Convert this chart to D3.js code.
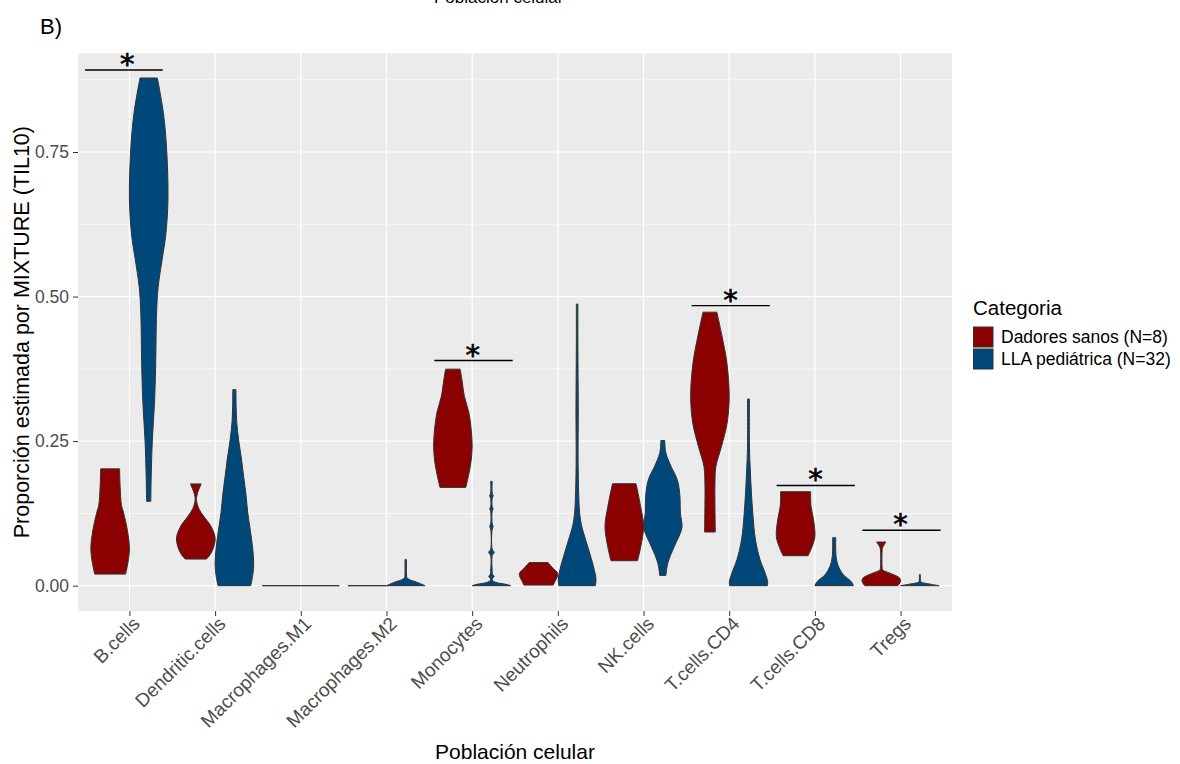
<!DOCTYPE html>
<html><head><meta charset="utf-8">
<script src="https://cdn.jsdelivr.net/npm/d3@7"></script>
<style>
body{margin:0;background:#fff}
svg{display:block}
text{font-family:"Liberation Sans",Arial,Helvetica,sans-serif}
</style>
</head><body>
<svg id="chart" width="1180" height="764"></svg>
<script>
// ---------- data ----------
const categories = ["B.cells","Dendritic.cells","Macrophages.M1","Macrophages.M2","Monocytes","Neutrophils","NK.cells","T.cells.CD4","T.cells.CD8","Tregs"];
const groups = ["Dadores sanos (N=8)","LLA pediátrica (N=32)"];
const groupColors = ["#8B0000","#00487A"];
const yTicks = [0, 0.25, 0.5, 0.75];
const yTickLabels = ["0.00","0.25","0.50","0.75"];
const yMinorTicks = [0.125, 0.375, 0.625, 0.875];

// violin outlines: [value, relative width]
const vBcellsSanos   = [[0.020,0.80],[0.039,0.92],[0.064,1.00],[0.095,0.90],[0.127,0.69],[0.139,0.59],[0.171,0.52],[0.202,0.49]];
const vBcellsLLA     = [[0.146,0.11],[0.189,0.13],[0.252,0.19],[0.315,0.30],[0.378,0.36],[0.472,0.41],[0.516,0.49],[0.567,0.71],[0.605,0.88],[0.667,1.00],[0.755,0.93],[0.818,0.76],[0.878,0.45]];
const vDendSanos     = [[0.046,0.55],[0.054,0.75],[0.067,0.93],[0.083,1.00],[0.102,0.80],[0.120,0.41],[0.133,0.16],[0.149,0.035],[0.161,0.10],[0.176,0.28]];
const vDendLLA       = [[0.000,0.85],[0.020,0.96],[0.039,1.00],[0.064,0.95],[0.095,0.83],[0.127,0.69],[0.158,0.60],[0.189,0.48],[0.221,0.36],[0.252,0.22],[0.284,0.12],[0.310,0.09],[0.339,0.08]];
const vM1Sanos       = [[0.000,1.00],[0.000,1.00]];
const vM1LLA         = [[0.000,1.00],[0.000,1.00]];
const vM2Sanos       = [[0.000,1.00],[0.000,1.00]];
const vM2LLA         = [[0.000,1.00],[0.0035,0.76],[0.0075,0.45],[0.0104,0.20],[0.014,0.06],[0.020,0.04],[0.045,0.04]];
const vMonoSanos     = [[0.170,0.67],[0.189,0.80],[0.212,0.93],[0.241,1.00],[0.270,0.95],[0.299,0.83],[0.327,0.60],[0.356,0.47],[0.3745,0.38]];
const vMonoLLA       = [[0.000,1.00],[0.002,0.80],[0.004,0.45],[0.006,0.20],[0.009,0.06],[0.012,0.05],[0.016,0.14],[0.020,0.05],[0.025,0.04],[0.052,0.04],[0.0576,0.14],[0.063,0.04],[0.098,0.04],[0.1025,0.09],[0.107,0.04],[0.129,0.04],[0.1331,0.09],[0.137,0.04],[0.151,0.04],[0.1555,0.09],[0.160,0.04],[0.1803,0.04]];
const vNeutroSanos   = [[0.001,0.76],[0.006,0.83],[0.0207,1.00],[0.030,0.75],[0.040,0.49]];
const vNeutroLLA     = [[0.000,0.95],[0.0104,0.98],[0.0277,0.89],[0.0565,0.65],[0.085,0.39],[0.105,0.22],[0.126,0.13],[0.160,0.08],[0.220,0.05],[0.300,0.06],[0.360,0.05],[0.420,0.04],[0.487,0.04]];
const vNKSanos       = [[0.0432,0.69],[0.068,0.86],[0.1025,1.00],[0.137,0.85],[0.1763,0.61]];
const vNKLLA         = [[0.0178,0.16],[0.0392,0.26],[0.068,0.60],[0.091,0.91],[0.1025,1.00],[0.1256,0.91],[0.1543,0.89],[0.1832,0.75],[0.2062,0.43],[0.2293,0.16],[0.2511,0.10]];
const vCD4Sanos      = [[0.0928,0.28],[0.140,0.26],[0.1775,0.26],[0.206,0.31],[0.241,0.60],[0.281,0.89],[0.327,1.00],[0.385,0.88],[0.431,0.63],[0.473,0.36]];
const vCD4LLA        = [[0.000,0.98],[0.0075,0.99],[0.022,0.86],[0.045,0.60],[0.0795,0.36],[0.126,0.22],[0.195,0.10],[0.241,0.05],[0.3227,0.05]];
const vCD8Sanos      = [[0.0518,0.65],[0.068,0.86],[0.085,1.00],[0.114,0.93],[0.137,0.80],[0.1625,0.78]];
const vCD8LLA        = [[0.000,1.00],[0.0075,0.87],[0.019,0.47],[0.0334,0.22],[0.0506,0.10],[0.083,0.08]];
const vTregsSanos    = [[0.000,0.86],[0.0075,1.00],[0.0133,0.95],[0.0207,0.52],[0.026,0.12],[0.0277,0.06],[0.033,0.04],[0.060,0.04],[0.0651,0.06],[0.0755,0.24]];
const vTregsLLA      = [[0.000,1.00],[0.0035,0.40],[0.006,0.08],[0.009,0.03],[0.019,0.03]];

const violinsSanos = [vBcellsSanos,vDendSanos,vM1Sanos,vM2Sanos,vMonoSanos,vNeutroSanos,vNKSanos,vCD4Sanos,vCD8Sanos,vTregsSanos];
const violinsLLA   = [vBcellsLLA,vDendLLA,vM1LLA,vM2LLA,vMonoLLA,vNeutroLLA,vNKLLA,vCD4LLA,vCD8LLA,vTregsLLA];

// significance brackets
const sigCategories = ["B.cells","Monocytes","T.cells.CD4","T.cells.CD8","Tregs"];
const sigValues     = [0.8918, 0.3894, 0.4844, 0.1733, 0.0959];
const sigFrom       = [-0.518, -0.442, -0.439, -0.447, -0.446];
const sigTo         = [0.389, 0.473, 0.475, 0.467, 0.467];
const sigStarAt     = [-0.025, 0.006, 0.016, 0.008, 0.0];
const sigLabel      = "*";

// ---------- layout ----------
const svg = d3.select("#chart");
const panel = {left:78, right:952, top:53.3, bottom:611};
const x = d3.scalePoint().domain(categories).range([panel.left, panel.right]).padding(0.6);
const step = x.step();
const y = d3.scaleLinear().domain([-0.0438, 0.9207]).range([panel.bottom, panel.top]);
const halfW = d3.scaleLinear().domain([0,1]).range([0, 0.225*step]);
const dodge = [-0.225*step, 0.225*step];

// panel background
svg.append("rect").attr("x",panel.left).attr("y",panel.top)
  .attr("width",panel.right-panel.left).attr("height",panel.bottom-panel.top).attr("fill","#EBEBEB");

// grid
const grid = svg.append("g");
grid.selectAll(".minor").data(yMinorTicks).join("line")
  .attr("x1",panel.left).attr("x2",panel.right)
  .attr("y1",d=>y(d)).attr("y2",d=>y(d))
  .attr("stroke","#fff").attr("stroke-width",0.6);
grid.selectAll(".majorY").data(yTicks).join("line")
  .attr("x1",panel.left).attr("x2",panel.right)
  .attr("y1",d=>y(d)).attr("y2",d=>y(d))
  .attr("stroke","#fff").attr("stroke-width",1.2);
grid.selectAll(".majorX").data(categories).join("line")
  .attr("x1",d=>x(d)).attr("x2",d=>x(d))
  .attr("y1",panel.top).attr("y2",panel.bottom)
  .attr("stroke","#fff").attr("stroke-width",1.2);

// violins
const vg = svg.append("g");
[violinsSanos, violinsLLA].forEach((set, g) => {
  set.forEach((prof, i) => {
    const cx = x(categories[i]) + dodge[g];
    const area = d3.area()
      .curve(d3.curveCatmullRom.alpha(0.5))
      .y(d => y(d[0]))
      .x0(d => cx - halfW(d[1]))
      .x1(d => cx + halfW(d[1]));
    vg.append("path").attr("d", area(prof))
      .attr("fill", groupColors[g])
      .attr("stroke", "#333333")
      .attr("stroke-width", 1)
      .attr("stroke-linejoin","round");
  });
});

// significance annotations
const sg = svg.append("g");
sigCategories.forEach((c, i) => {
  const cx = x(c);
  sg.append("line")
    .attr("x1", cx + sigFrom[i]*step).attr("x2", cx + sigTo[i]*step)
    .attr("y1", y(sigValues[i])).attr("y2", y(sigValues[i]))
    .attr("stroke","#000").attr("stroke-width",1.4);
  sg.append("text")
    .attr("x", cx + sigStarAt[i]*step).attr("y", y(sigValues[i]) + 4)
    .attr("text-anchor","middle")
    .style("font-family","'DejaVu Sans',sans-serif")
    .attr("font-size", 29).attr("fill","#000")
    .attr("stroke","#000").attr("stroke-width",0.7)
    .text(sigLabel);
});

// y axis
const yAxis = svg.append("g").attr("transform",`translate(${panel.left},0)`)
  .call(d3.axisLeft(y).tickValues(yTicks).tickFormat((d,i)=>yTickLabels[i]).tickSize(5).tickPadding(4));
yAxis.select(".domain").remove();
yAxis.selectAll(".tick line").attr("stroke","#333").attr("stroke-width",1);
yAxis.selectAll(".tick text").attr("fill","#4D4D4D").attr("font-size",17.5)
  .style("font-family","'Liberation Sans',Arial,sans-serif");

// x axis
const xAxis = svg.append("g").attr("transform",`translate(0,${panel.bottom})`)
  .call(d3.axisBottom(x).tickSize(5).tickPadding(4));
xAxis.select(".domain").remove();
xAxis.selectAll(".tick line").attr("stroke","#333").attr("stroke-width",1);
xAxis.selectAll(".tick text")
  .attr("fill","#4D4D4D").attr("font-size",19)
  .style("font-family","'Liberation Sans',Arial,sans-serif")
  .attr("text-anchor","end")
  .attr("y",4).attr("x",-2).attr("dy","0.72em")
  .attr("transform","rotate(-45)");

// axis titles
svg.append("text").attr("x",(panel.left+panel.right)/2).attr("y",759)
  .attr("text-anchor","middle").attr("font-size",21).attr("fill","#000").text("Población celular");
svg.append("text").attr("transform",`translate(29,${(panel.top+panel.bottom)/2}) rotate(-90)`)
  .attr("text-anchor","middle").attr("font-size",21.5).attr("fill","#000")
  .text("Proporción estimada por MIXTURE (TIL10)");

// panel tag & clipped heading (cut at the top edge as in the reference)
svg.append("text").attr("x",40).attr("y",34).attr("font-size",22).attr("fill","#000").text("B)");
svg.append("text").attr("x",434).attr("y",3).attr("font-size",17).attr("fill","#000").text("Población celular");

// legend
const lg = svg.append("g");
lg.append("text").attr("x",973).attr("y",315).attr("font-size",20.5).attr("fill","#000").text("Categoria");
groups.forEach((g,i)=>{
  lg.append("rect").attr("x",973.5).attr("y",327+i*22).attr("width",19.5).attr("height",20)
    .attr("fill",groupColors[i]).attr("stroke","#333").attr("stroke-width",1);
  lg.append("text").attr("x",1001).attr("y",337+i*22).attr("dy","0.36em")
    .attr("font-size",17.5).attr("fill","#000").text(g);
});
</script>
</body></html>
